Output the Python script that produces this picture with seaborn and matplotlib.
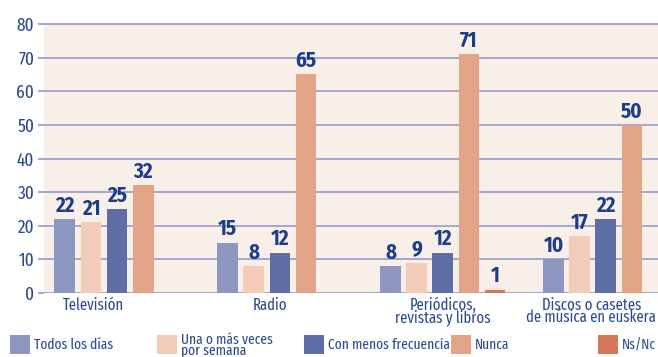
import numpy as np
import pandas as pd
import matplotlib
matplotlib.use("Agg")
import matplotlib.pyplot as plt
from matplotlib.patches import Rectangle
import seaborn as sns

# Frecuencia de uso del euskera según el medio (%)
categories = ["Televisión", "Radio", "Periódicos,\nrevistas y libros",
              "Discos o casetes\nde música en euskera"]
frequencies = ["Todos los días", "Una o más veces\npor semana",
               "Con menos frecuencia", "Nunca", "Ns/Nc"]
todos_los_dias = [22, 15, 8, 10]
una_o_mas_semana = [21, 8, 9, 17]
menos_frecuencia = [25, 12, 12, 22]
nunca = [32, 65, 71, 50]
ns_nc = [np.nan, np.nan, 1, np.nan]
y_ticks = [0, 10, 20, 30, 40, 50, 60, 70, 80]

colors = ["#8D96C0", "#F2CCB8", "#5F6DA5", "#E2A386", "#D5785A"]
text_blue = "#1B3D8A"
axis_blue = "#2B4A8F"
grid_col = "#A3A8D2"
bg_col = "#F8EFE9"

series = [todos_los_dias, una_o_mas_semana, menos_frecuencia, nunca, ns_nc]
rows = []
for freq, vals in zip(frequencies, series):
    for cat, v in zip(categories, vals):
        rows.append({"medio": cat, "frecuencia": freq, "pct": v})
df = pd.DataFrame(rows).dropna()

sns.set_style("white")
narrow_font = ["Fira Sans Extra Condensed", "Fira Sans Condensed", "DejaVu Sans"]
value_font = ["Fira Sans Condensed", "DejaVu Sans"]
plt.rcParams["font.family"] = narrow_font

fig = plt.figure(figsize=(6.58, 3.57), dpi=100)
ax = fig.add_axes([0.0669, 0.179, 0.9331, 0.7566])
ax.set_facecolor(bg_col)

sns.barplot(data=df, x="medio", y="pct", hue="frecuencia", order=categories,
            hue_order=frequencies, palette=colors, saturation=1, width=0.8,
            gap=0.2, legend=False, ax=ax, zorder=3, linewidth=0)

for cont in ax.containers:
    ax.bar_label(cont, fmt="{:.0f}", padding=2, color=text_blue,
                 fontsize=15, fontweight="bold", family=value_font, zorder=4)

ax.set_ylim(0, 80.3)
ax.set_xlim(-0.448, 3.32)
ax.set_yticks(y_ticks)
ax.set_yticklabels([str(t) for t in y_ticks], fontsize=13.5, color=axis_blue)
ax.yaxis.grid(True, color=grid_col, linewidth=1.4, zorder=1)
ax.set_axisbelow(True)
ax.tick_params(axis="y", length=4, width=1.4, color=grid_col, pad=3, left=True)

label_shift = [-0.147, -0.06, 0.0, -0.09]
ax.set_xticks([i + s for i, s in enumerate(label_shift)])
ax.set_xticklabels(categories, fontsize=11.5, color=axis_blue, linespacing=0.72)
ax.tick_params(axis="x", length=0, pad=3)
ax.set_xlabel("")
ax.set_ylabel("")
for sp in ax.spines.values():
    sp.set_visible(False)

# Leyenda en una fila de columnas de igual ancho
W, H = 658, 357
for i, (lab, col) in enumerate(zip(frequencies, colors)):
    x0 = 10 + i * 147
    fig.add_artist(Rectangle((x0 / W, 3 / H), 20 / W, 19 / H,
                             transform=fig.transFigure, color=col, lw=0))
    fig.text((x0 + 24) / W, 12 / H, lab, fontsize=10.5, color=axis_blue,
             va="center", ha="left", linespacing=0.7)

fig.savefig("out.png", dpi=100, facecolor="white")
